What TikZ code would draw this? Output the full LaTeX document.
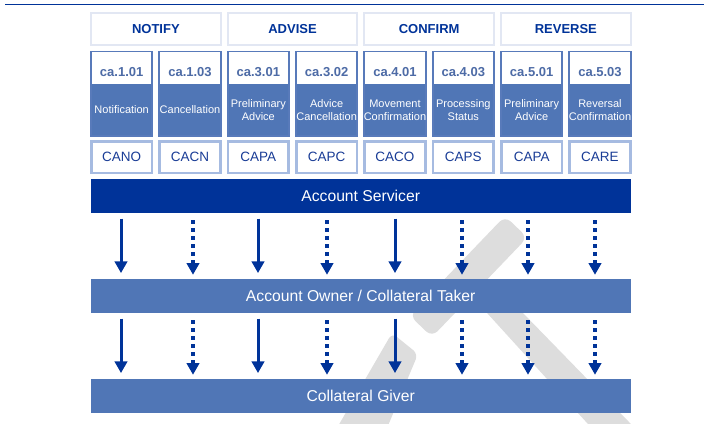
\documentclass[tikz,border=0pt]{standalone}
\usepackage{fontspec}
\setmainfont{Liberation Sans}
\usetikzlibrary{arrows.meta}
\definecolor{dkblue}{RGB}{0,51,153}
\definecolor{mdblue}{RGB}{80,118,182}
\definecolor{bdblue}{RGB}{88,122,186}
\definecolor{ltblue}{RGB}{166,187,225}
\definecolor{hdrborder}{RGB}{226,231,243}
\definecolor{codecol}{RGB}{77,107,166}
\definecolor{msgcol}{RGB}{25,60,150}
\definecolor{wmgray}{RGB}{221,221,221}
\begin{document}
\begin{tikzpicture}[x=1pt,y=-1pt,
  hdr/.style={draw=hdrborder, line width=2pt, fill=white, minimum width=129.7pt,
    minimum height=31.7pt, inner sep=0pt, text=dkblue,
    font=\bfseries\fontsize{13}{15}\selectfont},
  codebox/.style={draw=bdblue, line width=2pt, fill=mdblue, minimum width=61.3pt,
    minimum height=84pt, inner sep=0pt},
  whitepart/.style={fill=white, minimum width=59.3pt, minimum height=32pt, inner sep=0pt},
  codetext/.style={text=codecol, inner sep=0pt, font=\bfseries\fontsize{13}{15}\selectfont},
  labeltext/.style={text=white, inner sep=0pt, align=center,
    font=\fontsize{11}{12.6}\selectfont},
  msgbox/.style={draw=ltblue, line width=2.5pt, fill=white, minimum width=60.8pt,
    minimum height=31.5pt, inner sep=0pt, text=msgcol,
    font=\fontsize{13.5}{15}\selectfont},
  darkbar/.style={fill=dkblue, minimum width=540pt, minimum height=33.4pt, inner sep=0pt,
    text=white, text depth=0pt, font=\fontsize{15.7}{18}\selectfont},
  midbar/.style={darkbar, fill=mdblue},
  solidarr/.style={dkblue, line width=3pt, shorten <=5.6pt, shorten >=6pt,
    -{Triangle[length=11.7pt,width=12.3pt]}},
  dotarr/.style={dkblue, line width=3.3pt, dash pattern=on 3.3pt off 4.7pt,
    shorten <=7.3pt, shorten >=4.3pt, -{Triangle[length=11.7pt,width=12.3pt]}}
]
\useasboundingbox (0,0) rectangle (704,423);
% watermark
\begin{scope}
\clip (0,0) rectangle (704,423);
\fill[wmgray, rounded corners=8pt] (505,216) -- (527.4,237.5) -- (432,337) -- (409.6,315.5) -- cycle;
\fill[wmgray, rounded corners=6pt] (392,333) -- (418,354) -- (382,440) -- (330,440) -- cycle;
\fill[wmgray] (461.6,285) -- (495.7,285) -- (646.5,440) -- (602.5,440) -- cycle;
\end{scope}
% top rule
\coordinate (ruleL) at (5,4.3);
\coordinate (ruleR) at (704,4.3);
\draw[dkblue, line width=1.6pt] (ruleL) -- (ruleR);
% headers
\foreach \g/\name in {1/NOTIFY,2/ADVISE,3/CONFIRM,4/REVERSE}
  \node[hdr] (h\g) at ({90+(\g-1)*136.667+65.85}, 29.15) {\name};
% bars
\node[darkbar] (servicer) at (360.7,196) {Account Servicer};
\node[midbar] (owner) at (360.7,296) {Account Owner / Collateral Taker};
\node[midbar] (giver) at (360.7,396) {Collateral Giver};
% columns
\foreach \i/\code/\lab/\msg/\ax/\sty in {
  1/ca.1.01/Notification/CANO/121/solidarr,
  2/ca.1.03/Cancellation/CACN/193/dotarr,
  3/ca.3.01/{Preliminary\\Advice}/CAPA/258/solidarr,
  4/ca.3.02/{Advice\\Cancellation}/CAPC/327/dotarr,
  5/ca.4.01/{Movement\\Confirmation}/CACO/395/solidarr,
  6/ca.4.03/{Processing\\Status}/CAPS/462/dotarr,
  7/ca.5.01/{Preliminary\\Advice}/CAPA/528/dotarr,
  8/ca.5.03/{Reversal\\Confirmation}/CARE/595/dotarr}{
  \pgfmathsetmacro{\xc}{90+(\i-1)*68.333+31.65}
  \node[codebox] (k\i) at (\xc,93.7) {};
  \node[whitepart] (w\i) at (\xc,68) {};
  \node[codetext, anchor=base] (t\i) at (\xc,76) {\code};
  \node[labeltext] (l\i) at (\xc,110) {\lab};
  \node[msgbox] (m\i) at (\xc,157) {\msg};
  \coordinate (c\i) at (\ax,0);
  \draw[\sty] (servicer.south -| c\i) -- (owner.north -| c\i);
  \draw[\sty] (owner.south -| c\i) -- (giver.north -| c\i);
}
\end{tikzpicture}
\end{document}
